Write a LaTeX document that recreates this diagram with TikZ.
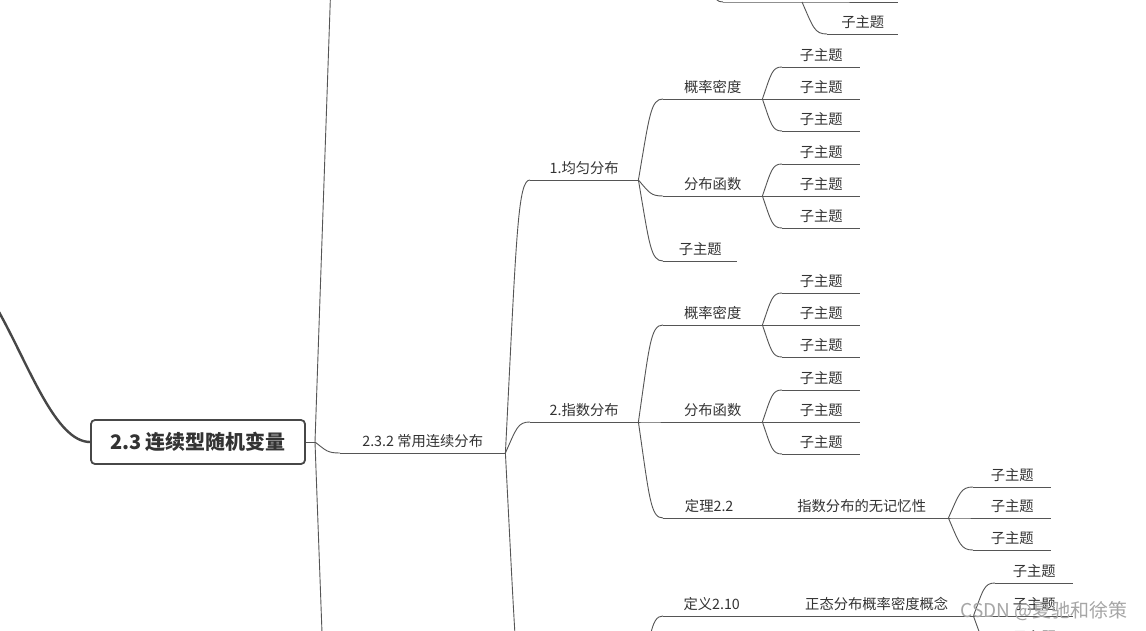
\documentclass[tikz,border=0pt]{standalone}
\usepackage{fontspec}
\newfontfamily\cjk{Noto Sans CJK SC}
\usetikzlibrary{calc}
\definecolor{lncol}{HTML}{555555}
\definecolor{txtcol}{HTML}{333333}
\definecolor{rootcol}{HTML}{474747}
\begin{document}
\begin{tikzpicture}[x=1pt, y=-1pt,
    every node/.style={font=\cjk\fontsize{14.3}{17}\selectfont, text=txtcol},
    rootbox/.style={draw=rootcol, line width=1.8pt, rounded corners=4pt, fill=white, minimum width=214pt, minimum height=44pt, font=\cjk\bfseries\fontsize{20}{24}\selectfont},
    topic/.style={anchor=south west, inner xsep=0pt, inner ysep=5pt, minimum width=#1pt, align=center},
    link/.style={draw=lncol, line width=0.9pt},
    mainlink/.style={draw=rootcol, line width=2.4pt},
    branch/.style={to path={let \p1=(\tikztostart), \p2=(\tikztotarget) in
        .. controls ({\x1+0.45*(\x2-\x1)},{\y1+0.8*(\y2-\y1)}) and ({\x1+0.5*(\x2-\x1)},\y2) .. (\tikztotarget)}},
    watermark/.style={font=\cjk\fontsize{19}{22}\selectfont, text=black!35}
]
    \useasboundingbox (0,0) rectangle (1146,631);
    \clip (0,0) rectangle (1146,631);
    \fill[white] (0,0) rectangle (1146,631);

    % Root topic
    \node[rootbox] (root) at (198,442) {2.3 连续型随机变量};
    \coordinate (rj) at (315,442);
    \coordinate (prevtop) at (-1,312);
    \coordinate (uptop) at (331,-20);
    \coordinate (downend) at (323,660);

    % Main topics
    \node[topic=165] (n232) at (340,453) {2.3.2 常用连续分布};
    \node[topic=108] (n1) at (530,180) {1.均匀分布};
    \node[topic=108] (n2) at (530,422) {2.指数分布};
    \coordinate (n3) at (530,720);
    \coordinate (n3j) at (638,720);

    % Sub topics
    \node[topic=99] (n11) at (663,99) {概率密度};
    \node[topic=99] (n12) at (663,196) {分布函数};
    \node[topic=74] (n13) at (663,261) {子主题};
    \node[topic=99] (n21) at (663,325) {概率密度};
    \node[topic=99] (n22) at (663,422) {分布函数};
    \node[topic=92] (n23) at (663,518) {定理2.2};
    \node[topic=173] (n231) at (775,518) {指数分布的无记忆性};
    \node[topic=97] (n24) at (663,616) {定义2.10};
    \node[topic=193] (n241) at (780,616) {正态分布概率密度概念};

    % Fragment of the branch above
    \coordinate (t0) at (700,-60);
    \coordinate (t1) at (723,2);
    \coordinate (t2) at (802,2);
    \coordinate (t21) at (898,2);
    \node[topic=71] (t22) at (827,34) {子主题};

    % Connectors
    \draw[mainlink] (prevtop) .. controls (30,368) and (56,442) .. (root.west);
    \draw[link] (root.east) -- (rj);
    \draw[link] (rj) -- (uptop);
    \draw[link] (rj) -- (downend);
    \draw[link] (rj) to[branch] (n232.south west);

    \foreach \u in {n232,n1,n2,n11,n12,n13,n21,n22,n23,n231,n24,n241,t22}
        \draw[link] (\u.south west) -- (\u.south east);

    \foreach \a/\b in {n232/n1, n232/n2, n1/n11, n1/n12, n1/n13, n2/n21, n2/n22, n2/n23, n23/n231, n24/n241}
        \draw[link] (\a.south east) to[branch] (\b.south west);
    \draw[link] (n232.south east) to[branch] (n3);
    \draw[link] (n3j) to[branch] (n24.south west);
    \draw[link] (t0) to[branch] (t1);
    \draw[link] (t1) -- (t2) -- (t21);
    \draw[link] (t2) to[branch] (t22.south west);

    % Leaf topics
    \foreach \m/\lx/\ys in {n11/782/{67,99,131}, n12/782/{164,196,228}, n21/782/{293,325,357}, n22/782/{390,422,454}, n231/973/{487,518,550}, n241/995/{583,616,649}}
        \foreach \ly in \ys {
            \node[topic=78] (\m leaf\ly) at (\lx,\ly) {子主题};
            \draw[link] (\m.south east) to[branch] (\m leaf\ly.south west);
            \draw[link] (\m leaf\ly.south west) -- (\m leaf\ly.south east);
        }

    % Watermark
    \node[watermark] (wm) at (1044,611) {CSDN @夏驰和徐策};
\end{tikzpicture}
\end{document}
